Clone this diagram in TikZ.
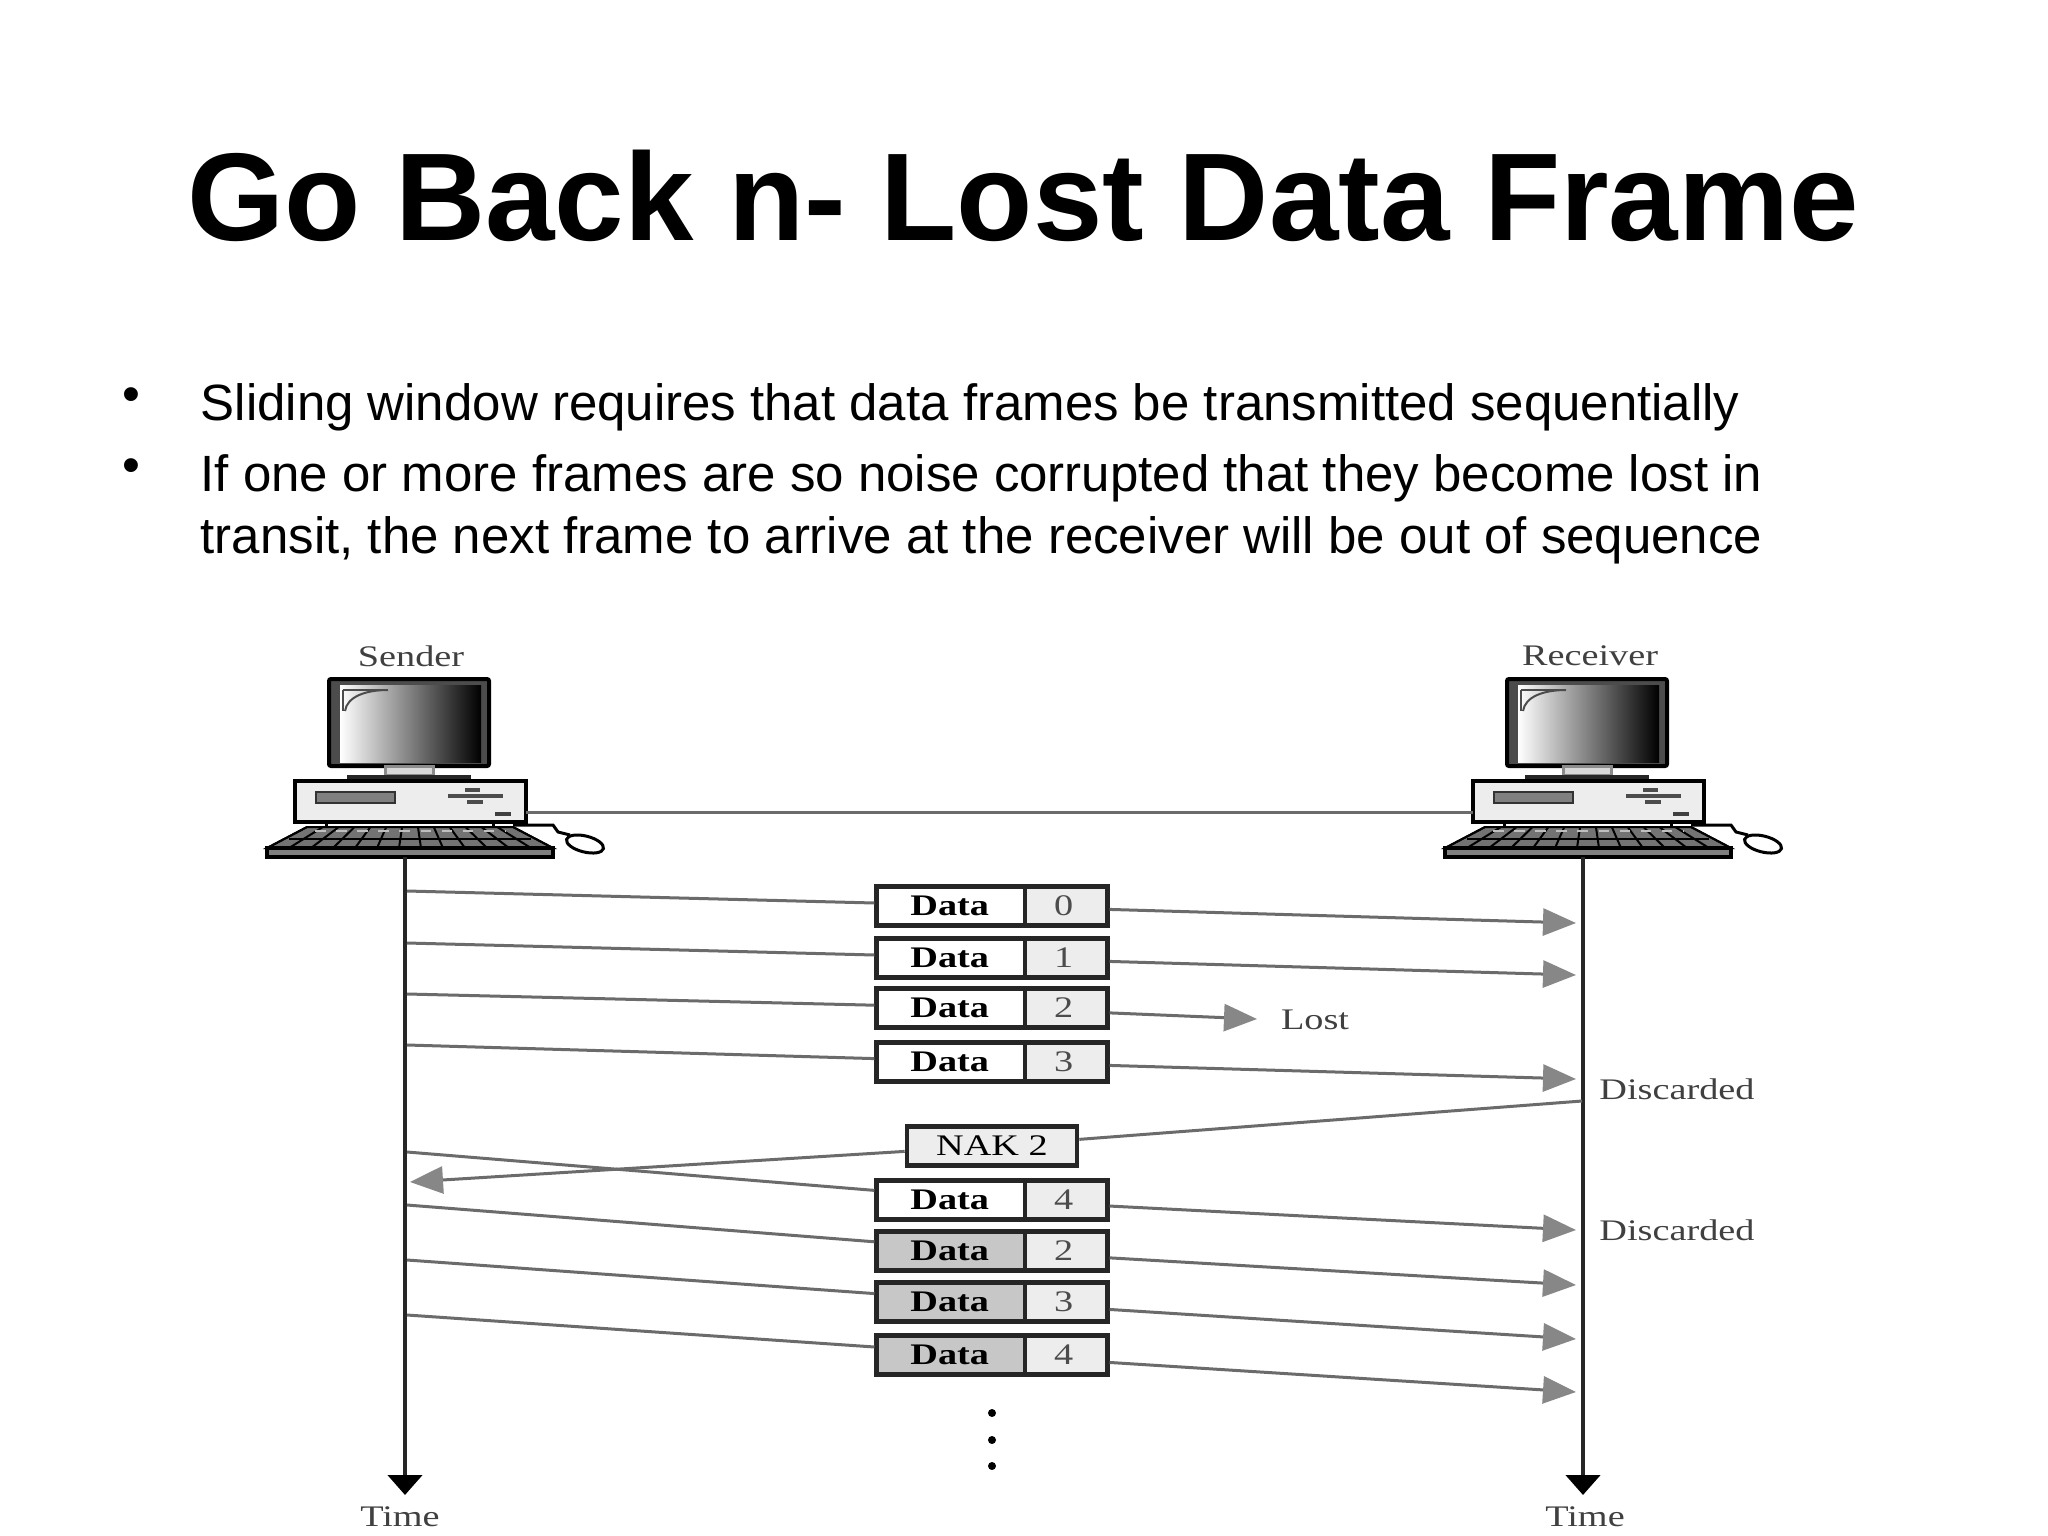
\documentclass[tikz,border=0pt]{standalone}
\usepackage{fontspec}
\setmainfont{Liberation Sans}
\newfontfamily\figfont[FakeStretch=1.28]{Liberation Serif}
\usetikzlibrary{arrows.meta,shapes.multipart}
\definecolor{framegray}{rgb}{0.93, 0.93, 0.93}
\definecolor{resentgray}{rgb}{0.78, 0.78, 0.78}
\definecolor{tipgray}{rgb}{0.53, 0.53, 0.53}
\definecolor{linegray}{rgb}{0.42, 0.42, 0.42}
\tikzstyle{frame}=[rectangle split, rectangle split parts=2, rectangle split horizontal,
  draw=black!85, line width=.045cm, inner sep=0pt, minimum height=.39cm,
  font=\figfont\fontsize{8.5}{10}\selectfont]
\tikzstyle{nak}=[draw=black!85, line width=.045cm, fill=framegray, inner sep=0pt,
  minimum width=1.7cm, minimum height=.39cm, font=\figfont\fontsize{8.5}{10}\selectfont]
\tikzstyle{caption}=[inner sep=0pt, text=black!75, font=\figfont\fontsize{8.5}{10}\selectfont]
\tikzstyle{msg}=[draw=linegray, line width=.03cm, -{Triangle[length=.33cm,width=.27cm,color=tipgray]}]
\tikzstyle{wire}=[draw=linegray, line width=.03cm]
\tikzstyle{timeline}=[draw=black!85, line width=.045cm, -{Triangle[length=.2cm,width=.34cm,color=black]}]
\tikzstyle{body}=[anchor=base west, inner sep=0pt, font=\fontsize{14.5}{17.6}\selectfont]
\tikzset{
  computer/.pic={
    % monitor
    \draw[line width=.04cm, fill=black!70, rounded corners=.02cm] (-76,-178) rectangle (84,-91);
    \shade[left color=white, right color=black] (-65,-172) rectangle (76,-95);
    \draw[black!70, line width=.02cm, fill=none] (-17,-167) .. controls (-40,-167) and (-58,-160) .. (-60,-146);
    \draw[black!70, line width=.02cm] (-62,-167) -- (-17,-167) (-62,-167) -- (-62,-146);
    % stand and case
    \draw[black!45, fill=black!15, line width=.03cm] (-20,-91) rectangle (28,-82);
    \fill[black!85] (-58,-82) rectangle (66,-76);
    \draw[line width=.035cm, fill=framegray] (-110,-76) rectangle (121,-35);
    \draw[black!80, fill=black!50, line width=.02cm] (-89,-65) rectangle (-10,-54);
    \draw[black!70, line width=.04cm] (43,-61) -- (98,-61);
    \draw[black!70, line width=.04cm] (60,-67) -- (75,-67) (62,-55) -- (78,-55);
    \draw[black!75, line width=.04cm] (90,-43) -- (106,-43);
    % keyboard
    \draw[line width=.03cm] (-79,-35) -- (-79,-30) (88,-35) -- (88,-30);
    \draw[line width=.02cm, fill=black!55] (-98,-30) -- (108,-30) -- (148,-9) -- (-138,-9) -- cycle;
    \foreach \i in {0,...,13}
    \draw[line width=.02cm] ({-98+\i*15.85},-30) -- ({-138+\i*22},-9);
    \draw[black!25, line width=.02cm, dashed] (-90,-26) -- (100,-26);
    \draw[black, line width=.015cm] (-116,-18) -- (126,-18);
    \draw[line width=.035cm, fill=black!50] (-138,-9) rectangle (148,0);
    % mouse
    \draw[line width=.03cm] (108,-32) -- (148,-32) -- (153,-25) -- (165,-22);
    \draw[line width=.03cm, fill=white, rotate around={-14:(180,-13)}] (180,-13) ellipse (19 and 8);
    \coordinate (-west) at (-110,-45);
    \coordinate (-east) at (121,-45);
    \coordinate (-foot) at (0,0);
  }
}

\begin{document}
\begin{tikzpicture}[x=.01cm, y=-.01cm]
    \useasboundingbox (0,0) rectangle (2048,1536);

    % heading and bullets
    \node[inner sep=0pt, anchor=base, font=\bfseries\fontsize{35.5}{40}\selectfont] (title) at (1023,240) {Go Back n- Lost Data Frame};
    \node[body] (dotone) at (122,411) {•};
    \node[body] (lineone) at (200,420) {Sliding window requires that data frames be transmitted sequentially};
    \node[body] (dottwo) at (122,482) {•};
    \node[body] (linetwo) at (200,491) {If one or more frames are so noise corrupted that they become lost in};
    \node[body] (linethree) at (200,553) {transit, the next frame to arrive at the receiver will be out of sequence};

    % the two stations
    \pic (sender) at (405,857) {computer};
    \pic (receiver) at (1583,857) {computer};
    \node[caption] (sendername) at (411,656) {Sender};
    \node[caption] (receivername) at (1590,656) {Receiver};
    \draw[wire] (sender-east) -- (receiver-west);

    % time axes
    \coordinate (sendend) at (405,1495);
    \coordinate (recvend) at (1583,1495);
    \draw[timeline] (sender-foot) -- (sendend);
    \draw[timeline] (receiver-foot) -- (recvend);
    \node[caption] (sendertime) at (400,1517) {Time};
    \node[caption] (receivertime) at (1585,1517) {Time};

    % data frames, sender to receiver
    \foreach \id/\num/\ys/\yc/\xe/\ye/\col in {
      a/0/891/906/1576/923/white, b/1/943/958/1576/975/white,
      c/2/994/1008/1257/1019/white, d/3/1045/1062/1576/1079/white,
      e/4/1152/1200/1576/1230/white, f/2/1205/1251/1576/1285/resentgray,
      g/3/1260/1302/1576/1339/resentgray, h/4/1315/1355/1576/1392/resentgray}{
      \coordinate (s\id) at (407,\ys);
      \coordinate (r\id) at (\xe,\ye);
      \node[frame, rectangle split part fill={\col,framegray}] (d\id) at (992,\yc)
        {\makebox[1.46cm]{\bfseries Data}\nodepart{two}\makebox[.8cm]{\hspace{-.07cm}\textcolor{black!70}{\num}}};
      \draw[wire] (s\id) -- (d\id);
      \draw[msg] (d\id) -- (r\id);
    }

    % the NAK going back
    \coordinate (nakstart) at (1582,1101);
    \coordinate (nakend) at (410,1182);
    \node[nak] (nak) at (992,1146) {NAK 2};
    \draw[wire] (nakstart) -- (nak);
    \draw[msg] (nak) -- (nakend);

    \node[caption] (lost) at (1315,1020) {Lost};
    \node[caption] (discardone) at (1677,1089) {Discarded};
    \node[caption] (discardtwo) at (1677,1230) {Discarded};

    % dots below the last frame
    \foreach \y/\id in {1413/one, 1440/two, 1466/three}
    \node[circle, fill=black, inner sep=0pt, minimum size=.08cm] (more\id) at (992,\y) {};

\end{tikzpicture}
\end{document}
